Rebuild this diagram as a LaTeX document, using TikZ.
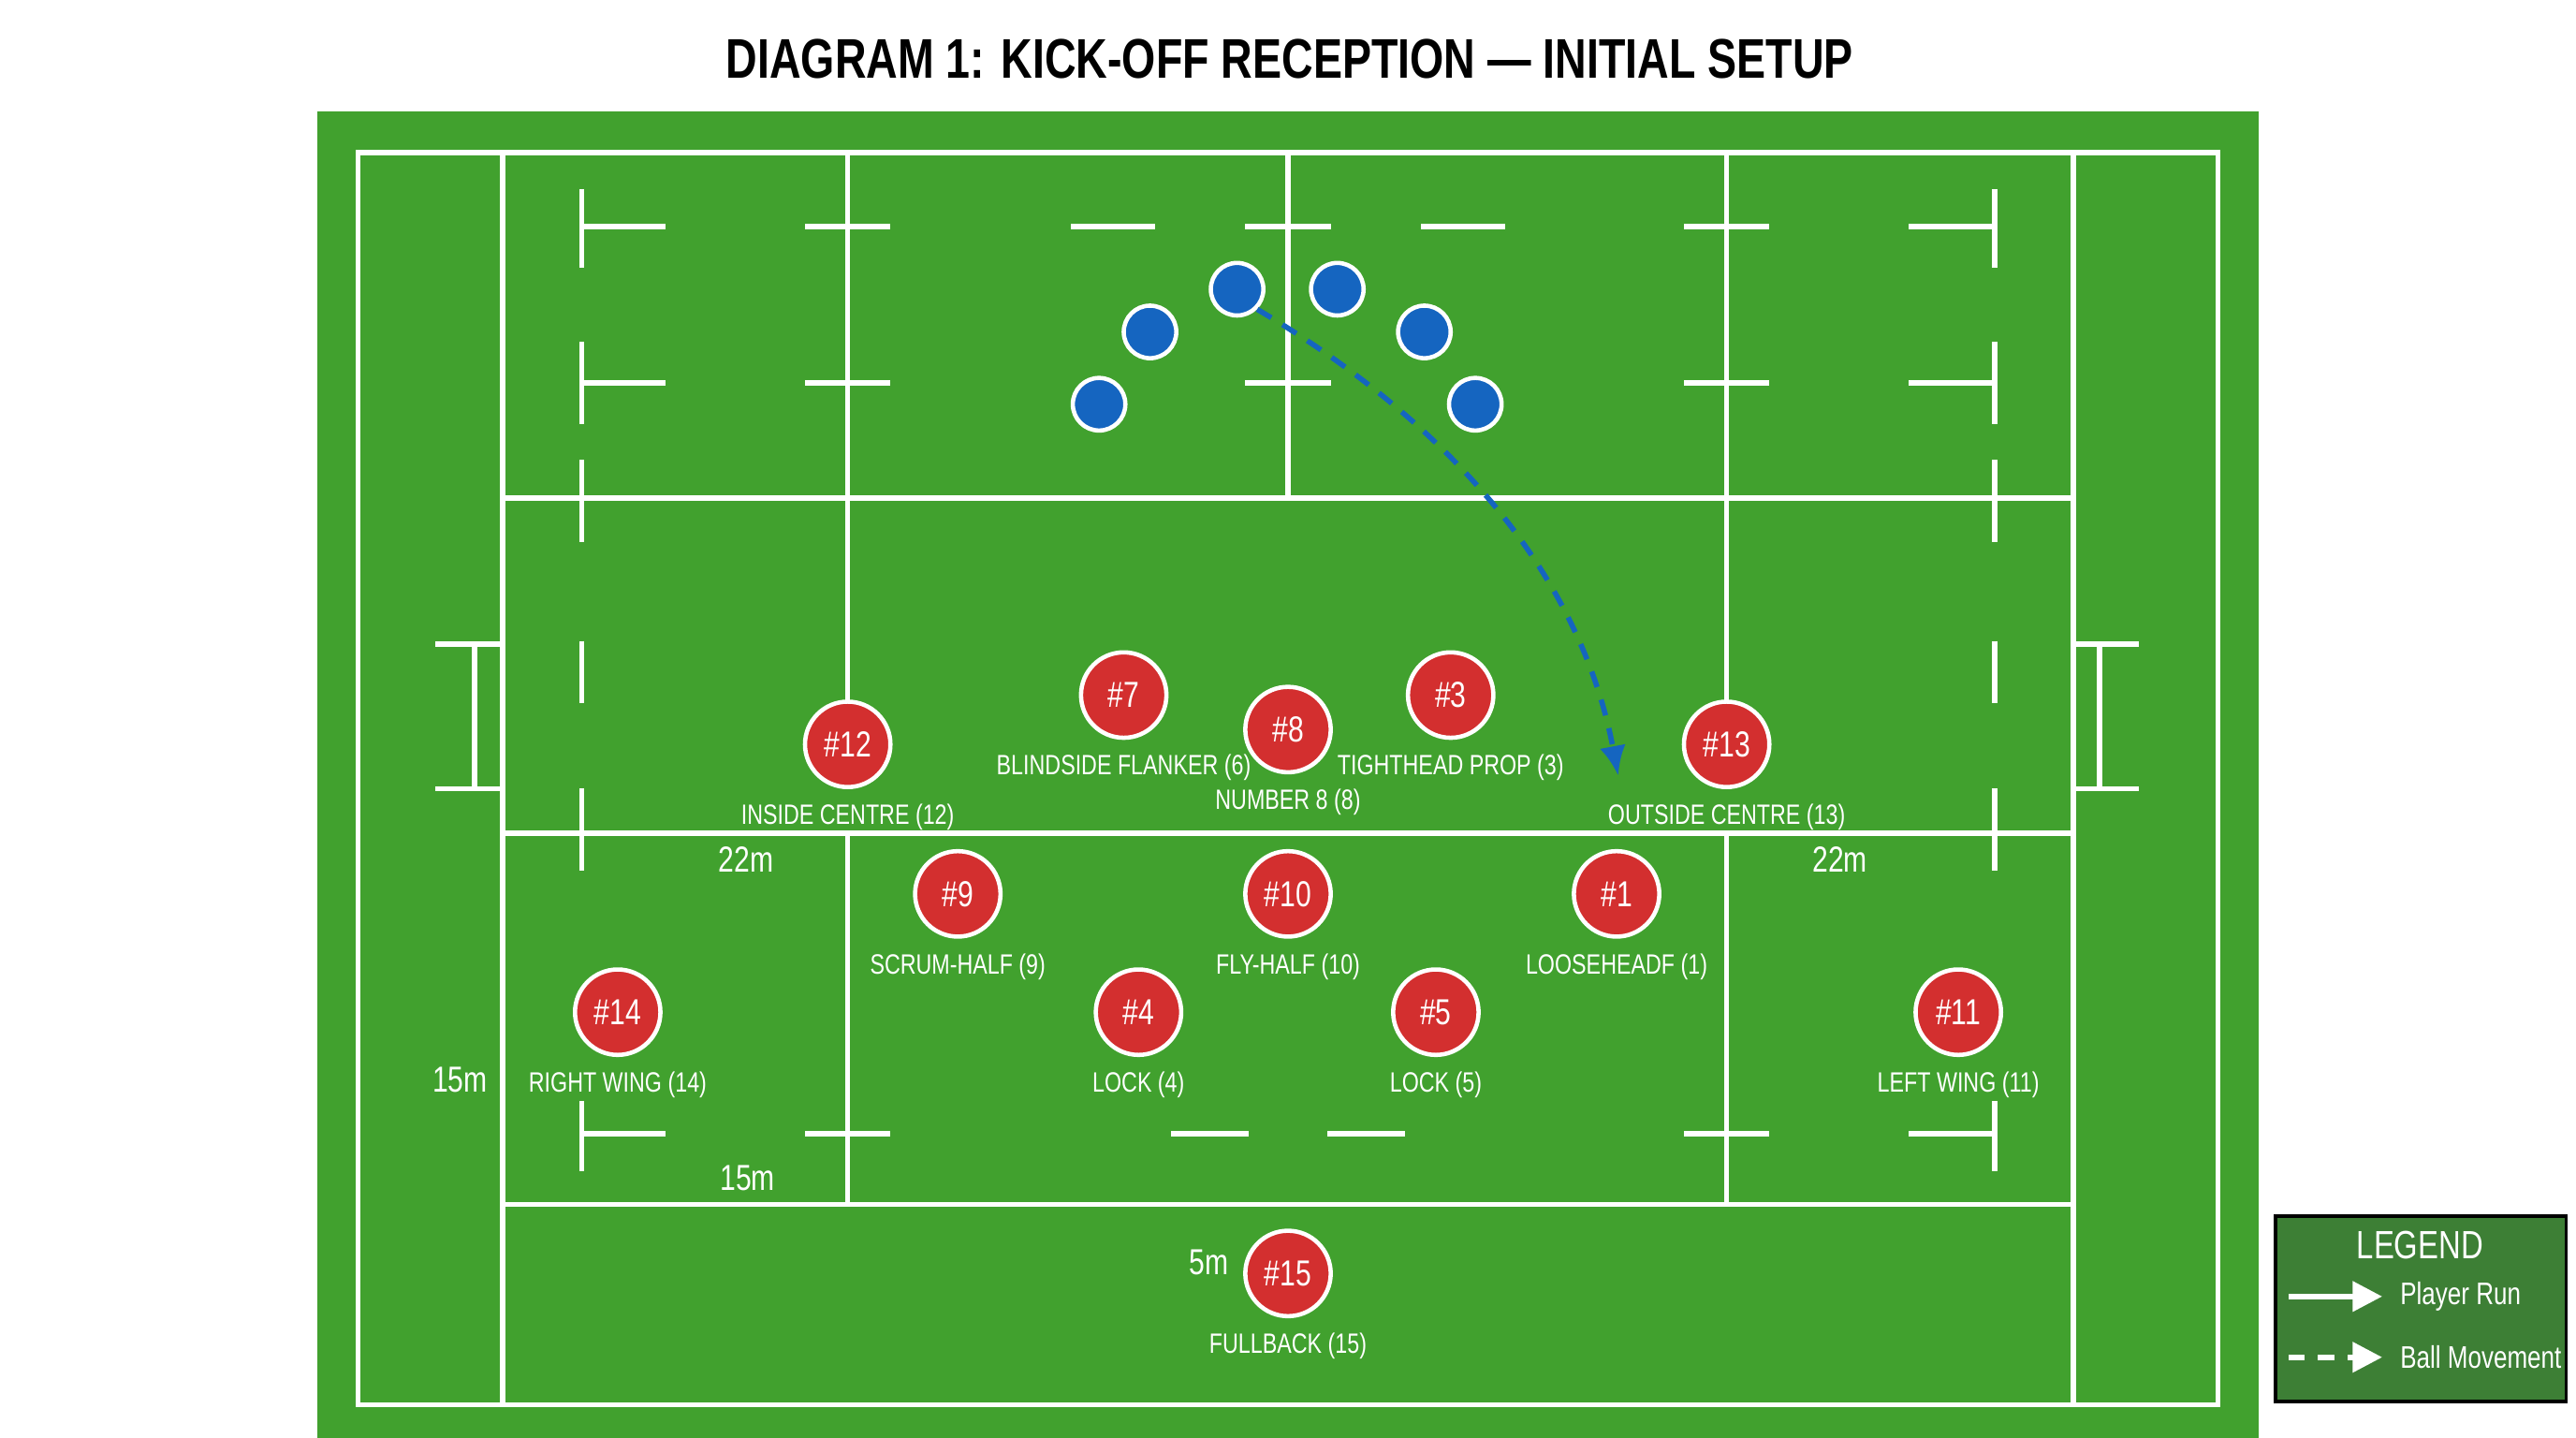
\documentclass[tikz,border=0pt]{standalone}
\usepackage{fontspec}
\setmainfont[FakeStretch=0.78]{Liberation Sans}
\usetikzlibrary{arrows.meta,positioning}
\definecolor{pitch}{HTML}{41A12E}
\definecolor{legbg}{HTML}{3D7F35}
\definecolor{pred}{HTML}{D32F2F}
\definecolor{pblue}{HTML}{1565C0}
\tikzset{
 fl/.style={white,line width=1.6pt},
 red/.style={circle,fill=pred,draw=white,line width=1.3pt,minimum size=26pt,inner sep=0pt,text=white,font=\fontsize{11}{11}\selectfont},
 blu/.style={circle,fill=pblue,draw=white,line width=1.3pt,minimum size=16pt,inner sep=0pt},
 lab/.style={text=white,font=\fontsize{8.5}{9}\selectfont},
 distmark/.style={text=white,font=\fontsize{11}{11}\selectfont}
}
\begin{document}
\begin{tikzpicture}[x=0.5pt,y=-0.5pt]
\useasboundingbox (0,0) rectangle (1568,875);
\fill[white] (0,0) rectangle (1568,875);
\node[font=\bfseries\fontsize{17}{17}\selectfont] (title) at (785,36) {DIAGRAM 1: KICK-OFF RECEPTION — INITIAL SETUP};
\fill[pitch] (193,68) rectangle (1375,875);
% field lines
\draw[fl] (218,93) rectangle (1350,855);
\draw[fl] (306,93) -- (306,855) (1262,93) -- (1262,855);
\draw[fl] (306,303) -- (1262,303) (306,507) -- (1262,507) (306,733) -- (1262,733);
\draw[fl] (516,93) -- (516,453) (516,507) -- (516,733);
\draw[fl] (1051,93) -- (1051,453) (1051,507) -- (1051,733);
\draw[fl] (784,93) -- (784,303);
\foreach \x in {354,1214}{
 \draw[fl] (\x,115)--(\x,163) (\x,208)--(\x,258) (\x,280)--(\x,330) (\x,390)--(\x,428) (\x,480)--(\x,530) (\x,670)--(\x,713);}
\foreach \y in {138,233}{
 \draw[fl] (354,\y)--(405,\y) (490,\y)--(542,\y) (758,\y)--(810,\y) (1025,\y)--(1077,\y) (1162,\y)--(1214,\y);}
\draw[fl] (652,138)--(703,138) (865,138)--(916,138);
\draw[fl] (354,690)--(405,690) (490,690)--(542,690) (713,690)--(760,690) (808,690)--(855,690) (1025,690)--(1077,690) (1162,690)--(1214,690);
\draw[fl] (265,392)--(306,392) (265,480)--(306,480) (289,392)--(289,480);
\draw[fl] (1262,392)--(1302,392) (1262,480)--(1302,480) (1278,392)--(1278,480);
% markers
\node[distmark] (m22a) at (454,523) {22m};
\node[distmark] (m22b) at (1120,523) {22m};
\node[distmark] (m15a) at (280,657) {15m};
\node[distmark] (m15b) at (455,717) {15m};
\node[distmark] (m5) at (736,768) {5m};
% opponents
\node[blu] (b1) at (669,246) {};
\node[blu] (b2) at (700,202) {};
\node[blu] (b3) at (753,176) {};
\node[blu] (b4) at (814,176) {};
\node[blu] (b5) at (867,202) {};
\node[blu] (b6) at (898,246) {};
\coordinate (ballend) at (985,472);
\draw[pblue,line width=1.6pt,dash pattern=on 5pt off 4pt,-{Latex[length=9pt,width=8pt]}] (b3.south east) .. controls (870,250) and (960,340) .. (ballend);
% players
\foreach \n/\x/\y/\t in {12/516/453/INSIDE CENTRE (12), 7/684/423/BLINDSIDE FLANKER (6), 8/784/444/NUMBER 8 (8), 3/883/423/TIGHTHEAD PROP (3), 13/1051/453/OUTSIDE CENTRE (13), 9/583/544/SCRUM-HALF (9), 10/784/544/FLY-HALF (10), 1/984/544/LOOSEHEADF (1), 14/376/616/RIGHT WING (14), 4/693/616/LOCK (4), 5/874/616/LOCK (5), 11/1192/616/LEFT WING (11), 15/784/775/FULLBACK (15)}{
 \node[red] (p\n) at (\x,\y) {\#\n};
 \node[lab,below=1pt of p\n] (l\n) {\t};}
% legend
\draw[black,line width=1pt,fill=legbg] (1385,740) rectangle (1562,853);
\node[text=white,font=\fontsize{12}{12}\selectfont] (leg) at (1473,758) {LEGEND};
\coordinate (r1) at (1393,789); \coordinate (r2) at (1450,789);
\coordinate (d1) at (1393,826); \coordinate (d2) at (1450,826);
\draw[white,line width=1.6pt,-{Triangle[length=9pt,width=9pt]}] (r1) -- (r2);
\draw[white,line width=1.6pt,dash pattern=on 5pt off 4pt,-{Triangle[length=9pt,width=9pt]}] (d1) -- (d2);
\node[text=white,anchor=west,font=\fontsize{9.5}{10}\selectfont] (lt1) at (1454,789) {Player Run};
\node[text=white,anchor=west,font=\fontsize{9.5}{10}\selectfont] (lt2) at (1454,826) {Ball Movement};
\end{tikzpicture}
\end{document}
